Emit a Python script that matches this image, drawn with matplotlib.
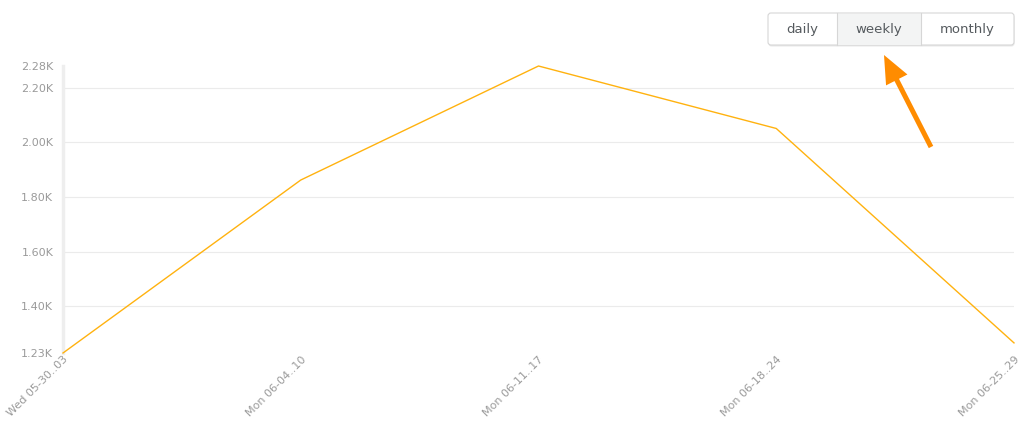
import matplotlib
matplotlib.use("Agg")
import matplotlib.pyplot as plt
from matplotlib.patches import FancyBboxPatch, Rectangle, FancyArrow

labels = ["Wed 05-30..03", "Mon 06-04..10", "Mon 06-11..17", "Mon 06-18..24", "Mon 06-25..29"]
values = [1228, 1862, 2280, 2051, 1265]
grid_ticks = [1400, 1600, 1800, 2000, 2200]
buttons = ["daily", "weekly", "monthly"]

W, H = 1033, 434
fig = plt.figure(figsize=(W / 100, H / 100), dpi=100)
plt.rcParams['font.family'] = ['DejaVu Sans']

ax = fig.add_axes([63 / W, (H - 353) / H, (1014 - 63) / W, (353 - 66) / H])
x = list(range(len(values)))
ax.plot(x, values, color="#FFB20F", lw=1.0, zorder=3, clip_on=False)
ax.set_xlim(0, len(values) - 1)
ymin, ymax = min(values), max(values)
ax.set_ylim(ymin, ymax)

for g in grid_ticks:
    ax.axhline(g, color="#ebebeb", lw=0.8, zorder=1)

yt = [ymin] + grid_ticks + [ymax]
ax.set_yticks(yt)
ax.set_yticklabels([f"{v/1000:.2f}K" for v in yt])
ax.set_xticks(x)
ax.set_xticklabels(labels, rotation=45, ha="right", va="top", rotation_mode="anchor")
ax.tick_params(axis="both", length=0, labelsize=8, labelcolor="#9a9a9a")
ax.tick_params(axis="y", pad=7)
ax.tick_params(axis="x", pad=1)
for s in ["top", "right", "bottom"]:
    ax.spines[s].set_visible(False)
ax.spines["left"].set_color("#eeeeee")
ax.spines["left"].set_linewidth(2.5)

# overlay for button group and arrow
ov = fig.add_axes([0, 0, 1, 1], zorder=5)
ov.set_xlim(0, W)
ov.set_ylim(H, 0)
ov.axis("off")
ov.patch.set_alpha(0)

bx0, bx1, by0, by1 = 768, 1014, 13, 45
edges = [bx0, 837, 921, bx1]
ov.add_patch(FancyBboxPatch((bx0 + 0.5, by0 + 1.5), bx1 - bx0, by1 - by0, boxstyle="round,pad=0,rounding_size=3",
                            fc="#e9e9e9", ec="none", zorder=1))
ov.add_patch(FancyBboxPatch((bx0, by0), bx1 - bx0, by1 - by0, boxstyle="round,pad=0,rounding_size=3",
                            fc="white", ec="#d6d6d6", lw=0.8, zorder=2))
ov.add_patch(Rectangle((edges[1], by0 + 0.5), edges[2] - edges[1], by1 - by0 - 1, fc="#f3f4f4", ec="none", zorder=3))
for e in edges[1:3]:
    ov.plot([e, e], [by0, by1], color="#d6d6d6", lw=0.8, zorder=4)
for i, b in enumerate(buttons):
    ov.text((edges[i] + edges[i + 1]) / 2, (by0 + by1) / 2, b, ha="center", va="center",
            fontsize=9.5, color="#555a5e", zorder=5)

tx, ty, hx, hy = 931, 147, 884, 55
ov.add_patch(FancyArrow(tx, ty, hx - tx, hy - ty, width=5, head_width=24, head_length=28,
                        length_includes_head=True, fc="#FF8C00", ec="none", zorder=6))

fig.savefig("out.png", dpi=100)
